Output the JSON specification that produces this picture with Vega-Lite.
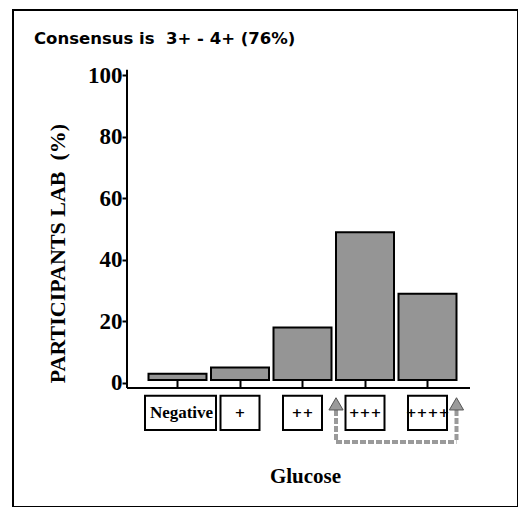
{
  "$schema": "https://vega.github.io/schema/vega-lite/v6.json",
  "autosize": {"type": "none"},
  "padding": {"left": 13, "top": 10, "right": 0, "bottom": 0},
  "width": 505,
  "height": 497,
  "background": "white",
  "title": {
    "text": "Consensus is\u00a0 3+ - 4+ (76%)",
    "anchor": "start",
    "frame": "group",
    "orient": "top",
    "offset": -50,
    "dx": 21,
    "baseline": "alphabetic",
    "font": "DejaVu Sans",
    "fontSize": 16.5,
    "fontWeight": "bold",
    "color": "black"
  },
  "data": {"values": [
    {"glucose": "Negative", "pct": 2},
    {"glucose": "+", "pct": 4},
    {"glucose": "++", "pct": 17},
    {"glucose": "+++", "pct": 48},
    {"glucose": "++++", "pct": 28}
  ]},
  "layer": [
    {
      "mark": {"type": "bar", "fill": "#959595", "stroke": "black", "strokeWidth": 2, "yOffset": -3, "y2Offset": -3},
      "encoding": {
        "x": {
          "field": "glucose", "type": "nominal", "sort": null,
          "scale": {"domain": ["Negative", "+", "++", "+++", "++++"], "range": [135.5, 443.5], "paddingInner": 0.072, "paddingOuter": 0},
          "axis": {"orient": "bottom", "offset": -119, "domain": false, "labels": false, "ticks": true, "tickSize": -8, "tickWidth": 2, "tickColor": "black", "title": null, "grid": false}
        },
        "y": {
          "field": "pct", "type": "quantitative",
          "scale": {"domain": [-40.3, 121.12], "nice": false, "zero": false},
          "axis": {
            "orient": "left", "offset": -114, "values": [0, 20, 40, 60, 80, 100], "domain": false, "grid": false,
            "tickSize": 5, "tickWidth": 2, "tickColor": "black",
            "labelFont": "Liberation Serif", "labelFontSize": 23, "labelFontWeight": "bold", "labelColor": "black", "labelPadding": 0,
            "title": "PARTICIPANTS LAB\u00a0 (%)", "titleFont": "Liberation Serif", "titleFontSize": 22, "titleFontWeight": "bold", "titleColor": "black", "titlePadding": 18, "titleY": 243
          }
        },
        "y2": {"datum": 0}
      }
    },
    {
      "data": {"values": [{}]},
      "mark": {"type": "rule", "stroke": "black", "strokeWidth": 2, "xOffset": -50.5},
      "encoding": {
        "x": {"datum": "Negative", "type": "nominal"},
        "y": {"datum": -1.62, "type": "quantitative"},
        "y2": {"datum": 101.7}
      }
    },
    {
      "data": {"values": [{}]},
      "mark": {"type": "rule", "stroke": "black", "strokeWidth": 2, "xOffset": -50.5, "x2Offset": 42.5},
      "encoding": {
        "x": {"datum": "Negative", "type": "nominal"},
        "x2": {"datum": "++++"},
        "y": {"datum": -1.62, "type": "quantitative"}
      }
    },
    {
      "transform": [{"filter": "datum.glucose == 'Negative'"}],
      "mark": {"type": "bar", "width": 71, "fill": "white", "stroke": "black", "strokeWidth": 2, "xOffset": 3},
      "encoding": {
        "x": {"field": "glucose", "type": "nominal"},
        "y": {"datum": -4.2, "type": "quantitative"},
        "y2": {"datum": -15.3}
      }
    },
    {
      "transform": [{"filter": "datum.glucose != 'Negative'"}],
      "mark": {"type": "bar", "width": 39, "fill": "white", "stroke": "black", "strokeWidth": 2},
      "encoding": {
        "x": {"field": "glucose", "type": "nominal"},
        "y": {"datum": -4.2, "type": "quantitative"},
        "y2": {"datum": -15.3}
      }
    },
    {
      "transform": [{"filter": "datum.glucose == 'Negative'"}],
      "mark": {"type": "text", "font": "Liberation Serif", "fontSize": 17, "fontWeight": "bold", "color": "black", "baseline": "middle", "align": "center", "dx": 4, "letterSpacing": -1.2},
      "encoding": {
        "x": {"field": "glucose", "type": "nominal"},
        "y": {"datum": -9.8, "type": "quantitative"},
        "text": {"field": "glucose"}
      }
    },
    {
      "transform": [{"filter": "datum.glucose != 'Negative'"}],
      "mark": {"type": "text", "font": "DejaVu Sans", "fontSize": 13, "fontWeight": "bold", "color": "black", "baseline": "middle", "align": "center", "dx": 0, "letterSpacing": -3},
      "encoding": {
        "x": {"field": "glucose", "type": "nominal"},
        "y": {"datum": -9.8, "type": "quantitative"},
        "text": {"field": "glucose"}
      }
    },
    {
      "data": {"values": [{}]},
      "mark": {"type": "rule", "stroke": "#9a9a9a", "strokeWidth": 4, "strokeDash": [6, 2]},
      "encoding": {
        "x": {"datum": "+++", "type": "nominal", "bandPosition": 0},
        "y": {"datum": -6.2, "type": "quantitative"},
        "y2": {"datum": -19.2}
      }
    },
    {
      "data": {"values": [{}]},
      "mark": {"type": "rule", "stroke": "#9a9a9a", "strokeWidth": 4, "strokeDash": [6, 2]},
      "encoding": {
        "x": {"datum": "++++", "type": "nominal", "bandPosition": 1},
        "y": {"datum": -6.2, "type": "quantitative"},
        "y2": {"datum": -19.2}
      }
    },
    {
      "data": {"values": [{}]},
      "mark": {"type": "rule", "stroke": "#9a9a9a", "strokeWidth": 4, "strokeDash": [6, 2]},
      "encoding": {
        "x": {"datum": "+++", "type": "nominal", "bandPosition": 0},
        "x2": {"datum": "++++", "bandPosition": 1},
        "y": {"datum": -19.2, "type": "quantitative"}
      }
    },
    {
      "data": {"values": [{}]},
      "mark": {"type": "point", "shape": "triangle-up", "size": 200, "filled": true, "fill": "#9a9a9a", "stroke": "#555555", "strokeWidth": 1, "opacity": 1},
      "encoding": {
        "x": {"datum": "+++", "type": "nominal", "bandPosition": 0},
        "y": {"datum": -6.8, "type": "quantitative"}
      }
    },
    {
      "data": {"values": [{}]},
      "mark": {"type": "point", "shape": "triangle-up", "size": 200, "filled": true, "fill": "#9a9a9a", "stroke": "#555555", "strokeWidth": 1, "opacity": 1},
      "encoding": {
        "x": {"datum": "++++", "type": "nominal", "bandPosition": 1},
        "y": {"datum": -6.8, "type": "quantitative"}
      }
    },
    {
      "data": {"values": [{}]},
      "mark": {"type": "text", "font": "Liberation Serif", "fontSize": 21, "fontWeight": "bold", "color": "black", "baseline": "alphabetic", "align": "center", "dx": 3},
      "encoding": {
        "x": {"datum": "++", "type": "nominal"},
        "y": {"datum": -32.5, "type": "quantitative"},
        "text": {"value": "Glucose"}
      }
    }
  ],
  "config": {
    "view": {"stroke": "black", "strokeWidth": 2},
    "font": "Liberation Serif"
  }
}
